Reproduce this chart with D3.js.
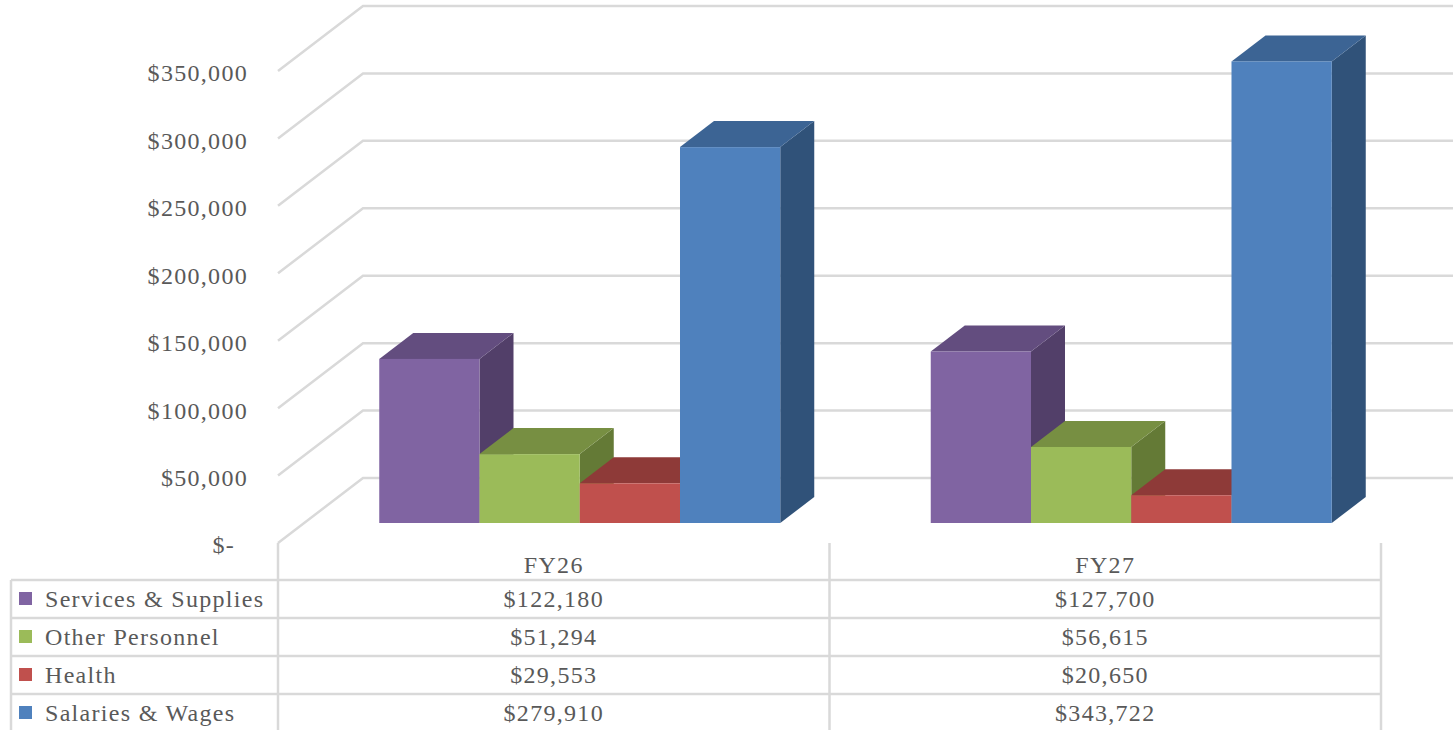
<!DOCTYPE html>
<html>
<head>
<meta charset="utf-8">
<script src="https://cdn.jsdelivr.net/npm/d3@7"></script>
<style>
  html, body { margin: 0; padding: 0; background: #fff; overflow: hidden; }
  text { font-family: "Liberation Serif", serif; font-size: 24px; fill: #595959; letter-spacing: 1.3px; }
</style>
</head>
<body>
<div class="chart"></div>
<script>
const categories = ['FY26', 'FY27'];
const seriesNames = ['Services & Supplies', 'Other Personnel', 'Health', 'Salaries & Wages'];
const servicesValues = [122180, 127700];
const otherValues = [51294, 56615];
const healthValues = [29553, 20650];
const salariesValues = [279910, 343722];
const tickValues = [0, 50000, 100000, 150000, 200000, 250000, 300000, 350000];
const seriesValues = [servicesValues, otherValues, healthValues, salariesValues];

const frontColors = ['#8064a2', '#9bbb59', '#c0504d', '#4f81bd'];
const sideColors = ['#523f69', '#647a36', '#7d3432', '#305279'];
const topColors = ['#634d7f', '#778f42', '#8e3a38', '#3c6494'];

const width = 1453, height = 730;
const gridColor = '#d9d9d9';

const svg = d3.select('.chart').append('svg')
  .attr('width', width)
  .attr('height', height)
  .style('display', 'block');

// y is measured on the back wall, yBar on the plane of the bar fronts
const y = d3.scaleLinear().domain([0, 350000]).range([478, 6]);
const yBar = d3.scaleLinear().domain([0, 350000]).range([523, 53]);
const x = d3.scaleBand().domain(categories).range([278, 1381]);
const xSeries = d3.scaleBand().domain(d3.range(seriesNames.length)).range([0, 401]);

const wallX = 85, wallY = 65;  // side wall depth
const barDx = 34, barDy = 26;  // bar depth
const barOffX = 26;            // bar front plane

const grid = svg.append('g').attr('fill', 'none').attr('stroke', gridColor).attr('stroke-width', 2.5);
grid.selectAll('path')
  .data(tickValues)
  .enter()
  .append('path')
  .attr('d', d => 'M278,' + (y(d) + wallY) + 'L' + (278 + wallX) + ',' + y(d) + 'H' + width);

svg.selectAll('.tick-label')
  .data(tickValues)
  .enter()
  .append('text')
  .attr('class', 'tick-label')
  .attr('x', d => d === 0 ? 235 : 248)
  .attr('y', d => y(d) + 67)
  .attr('dy', '.35em')
  .attr('text-anchor', 'end')
  .text(d => d === 0 ? '$-' : d3.format('$,')(d));

// left to right so each bar paints over the side of the one before
categories.forEach((cat, c) => {
  const left = x(cat) + x.bandwidth() / 2 + barOffX - 200.5;
  seriesValues.forEach((vals, s) => {
    const x0 = left + xSeries(s), x1 = x0 + xSeries.bandwidth();
    const yTop = yBar(vals[c]), yBase = yBar(0);
    const g = svg.append('g');
    g.append('path')
      .attr('d', `M${x1},${yTop}L${x1 + barDx},${yTop - barDy}V${yBase - barDy}L${x1},${yBase}Z`)
      .attr('fill', sideColors[s]);
    g.append('path')
      .attr('d', `M${x0},${yTop}L${x0 + barDx},${yTop - barDy}H${x1 + barDx}L${x1},${yTop}Z`)
      .attr('fill', topColors[s]);
    g.append('rect')
      .attr('x', x0)
      .attr('y', yTop)
      .attr('width', x1 - x0)
      .attr('height', yBase - yTop)
      .attr('fill', frontColors[s]);
  });
});

// data table under the plot
const rowY = d3.scaleBand().domain(seriesNames).range([580, 732]);
const table = svg.append('g').attr('stroke', gridColor).attr('stroke-width', 2.5);
seriesNames.forEach(name => {
  table.append('line')
    .attr('x1', 11).attr('x2', 1381)
    .attr('y1', rowY(name)).attr('y2', rowY(name));
});
table.append('line').attr('x1', 11).attr('x2', 11).attr('y1', 580).attr('y2', height);
[278, x(categories[1]), 1381].forEach(vx => {
  table.append('line').attr('x1', vx).attr('x2', vx).attr('y1', 543).attr('y2', height);
});

svg.selectAll('.cat-label')
  .data(categories)
  .enter()
  .append('text')
  .attr('class', 'cat-label')
  .attr('x', d => x(d) + x.bandwidth() / 2)
  .attr('y', 565)
  .attr('dy', '.35em')
  .attr('text-anchor', 'middle')
  .text(d => d);

seriesNames.forEach((name, s) => {
  const mid = rowY(name) + rowY.bandwidth() / 2;
  svg.append('rect')
    .attr('x', 19).attr('y', mid - 7)
    .attr('width', 13).attr('height', 13)
    .attr('fill', frontColors[s]);
  svg.append('text')
    .attr('x', 45).attr('y', mid - 0.5)
    .attr('dy', '.35em')
    .text(name);
  categories.forEach((cat, c) => {
    svg.append('text')
      .attr('x', x(cat) + x.bandwidth() / 2)
      .attr('y', mid - 0.5)
      .attr('dy', '.35em')
      .attr('text-anchor', 'middle')
      .text(d3.format('$,')(seriesValues[s][c]));
  });
});
</script>
</body>
</html>
